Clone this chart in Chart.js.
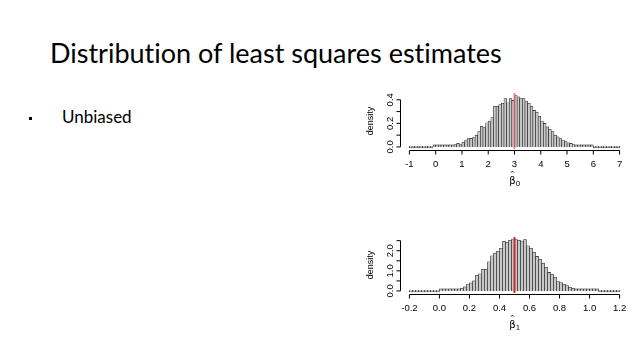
<!doctype html>
<html lang="en">
<head>
  <meta charset="utf-8">
  <title>Distribution of least squares estimates</title>
  <script src="https://cdn.jsdelivr.net/npm/chart.js"></script>
  <style>
    body { margin: 0; width: 640px; height: 360px; background: #fff; position: relative; overflow: hidden; font-family: Lato, "Open Sans", sans-serif; color: #000; font-variant-ligatures: none; }
    h1 { position: absolute; left: 50px; top: 39px; margin: 0; font-weight: 400; font-size: 27px; line-height: 1; white-space: nowrap; }
    .bullet { position: absolute; left: 29px; top: 108px; font-size: 17px; line-height: 1; white-space: nowrap; }
    .bullet .mark { display: inline-block; width: 3px; height: 3px; background: #000; margin-right: 30px; vertical-align: 3px; }
    .plot { position: absolute; left: 340px; width: 300px; height: 115px; }
  </style>
</head>
<body>
  <h1>Distribution of least squares estimates</h1>
  <div class="bullet"><span class="mark"></span>Unbiased</div>
  <div class="plot" style="top:80px"><canvas id="beta0Chart"></canvas></div>
  <div class="plot" style="top:225px"><canvas id="beta1Chart"></canvas></div>
<script>
// beta0 histogram: bins of 0.1 from -1 to 7
const b0Start = -1, b0Width = 0.1, b0True = 3;
const b0Density = [
  0, 0, 0, 0, 0, 0, 0, 0, 0, 0.001,
  0.002, 0.002, 0.003, 0.004, 0.006, 0.012, 0.015, 0.02, 0.03, 0.024,
  0.04, 0.058, 0.07, 0.072, 0.08, 0.1, 0.13, 0.175, 0.165, 0.205,
  0.22, 0.25, 0.345, 0.345, 0.36, 0.37, 0.41, 0.375, 0.41, 0.395,
  0.44, 0.425, 0.41, 0.41, 0.39, 0.37, 0.345, 0.31, 0.295, 0.26,
  0.22, 0.2, 0.17, 0.15, 0.13, 0.1, 0.085, 0.07, 0.058, 0.045,
  0.035, 0.03, 0.02, 0.015, 0.01, 0.006, 0.004, 0.003, 0.002, 0.001,
  0, 0, 0, 0, 0, 0, 0, 0, 0, 0
];
const b0XTicks = [-1, 0, 1, 2, 3, 4, 5, 6, 7];
const b0XLabels = ['-1', '0', '1', '2', '3', '4', '5', '6', '7'];
const b0YTicks = [0, 0.1, 0.2, 0.3, 0.4];
const b0YLabels = ['0.0', '', '0.2', '', '0.4'];

// beta1 histogram: bins of 0.02 from -0.2 to 1.2
const b1Start = -0.2, b1Width = 0.02, b1True = 0.5;
const b1Density = [
  0, 0, 0, 0, 0, 0, 0, 0, 0, 0,
  0.005, 0.01, 0.02, 0.03, 0.05, 0.08, 0.1, 0.13, 0.2, 0.34,
  0.4, 0.5, 0.78, 0.85, 1.08, 1.08, 1.45, 1.75, 1.88, 1.97,
  2.12, 2.47, 2.42, 2.52, 2.58, 2.55, 2.52, 2.48, 2.55, 2.25,
  2.12, 1.92, 1.72, 1.58, 1.38, 1.18, 0.92, 0.83, 0.68, 0.47,
  0.42, 0.33, 0.27, 0.18, 0.13, 0.1, 0.06, 0.04, 0.025, 0.015,
  0.008, 0.005, 0.002, 0, 0, 0, 0, 0, 0, 0
];
const b1XTicks = [-0.2, 0, 0.2, 0.4, 0.6, 0.8, 1.0, 1.2];
const b1XLabels = ['-0.2', '0.0', '0.2', '0.4', '0.6', '0.8', '1.0', '1.2'];
const b1YTicks = [0, 0.5, 1, 1.5, 2, 2.5];
const b1YLabels = ['0.0', '', '1.0', '', '2.0', ''];

// R style axes drawn from the chart scales
const rAxes = {
  id: 'rAxes',
  afterDraw(chart, args, opts) {
    const ctx = chart.ctx, xs = chart.scales.x, ys = chart.scales.y, area = chart.chartArea;
    ctx.save();
    // true value line
    const tx = xs.getPixelForValue(opts.trueValue);
    ctx.strokeStyle = opts.lineColor;
    ctx.lineWidth = 2;
    ctx.beginPath(); ctx.moveTo(tx, area.top); ctx.lineTo(tx, area.bottom); ctx.stroke();

    ctx.strokeStyle = '#000';
    ctx.fillStyle = '#000';
    ctx.lineWidth = 1;
    ctx.font = '9.5px "Liberation Sans", Arial, sans-serif';
    // x axis
    const ay = Math.round(area.bottom + 1) + 0.5;
    const x0 = xs.getPixelForValue(opts.xTicks[0]);
    const x1 = xs.getPixelForValue(opts.xTicks[opts.xTicks.length - 1]);
    ctx.beginPath(); ctx.moveTo(x0, ay); ctx.lineTo(x1, ay); ctx.stroke();
    ctx.textAlign = 'center';
    ctx.textBaseline = 'middle';
    opts.xTicks.forEach((v, i) => {
      const px = xs.getPixelForValue(v);
      ctx.beginPath(); ctx.moveTo(px, ay); ctx.lineTo(px, ay + 4); ctx.stroke();
      ctx.fillText(opts.xLabels[i], px, ay + 14);
    });
    // y axis
    const ax = Math.round(area.left) - 0.5;
    const y0 = ys.getPixelForValue(opts.yTicks[0]);
    const y1 = ys.getPixelForValue(opts.yTicks[opts.yTicks.length - 1]);
    ctx.beginPath(); ctx.moveTo(ax, y0); ctx.lineTo(ax, y1); ctx.stroke();
    opts.yTicks.forEach((v, i) => {
      const py = ys.getPixelForValue(v);
      ctx.beginPath(); ctx.moveTo(ax, py); ctx.lineTo(ax - 4, py); ctx.stroke();
      if (opts.yLabels[i]) {
        ctx.save();
        ctx.translate(ax - 10, py);
        ctx.rotate(-Math.PI / 2);
        ctx.fillText(opts.yLabels[i], 0, 0);
        ctx.restore();
      }
    });
    // y title
    ctx.save();
    ctx.font = '9px "Liberation Sans", Arial, sans-serif';
    ctx.translate(ax - 30, (area.top + area.bottom) / 2);
    ctx.rotate(-Math.PI / 2);
    ctx.fillText('density', 0, 0);
    ctx.restore();
    // x title: beta hat with subscript
    const cx = (area.left + area.right) / 2, cy = ay + 31;
    ctx.font = '10px "DejaVu Sans", sans-serif';
    ctx.fillText('\u03B2', cx - 2, cy);
    ctx.font = '7px "DejaVu Sans", sans-serif';
    ctx.fillText('^', cx - 2, cy - 7);
    ctx.fillText(opts.sub, cx + 3.5, cy + 3);
    ctx.restore();
  }
};

function histChart(id, start, width, density, lineColor, trueValue, sub, xTicks, xLabels, yTicks, yLabels, pad) {
  const pts = density.map((d, i) => ({ x: start + (i + 0.5) * width, y: d }));
  const xMin = start, xMax = start + density.length * width;
  const xPad = 0.04 * (xMax - xMin);
  const yMax = Math.max(...density);
  return new Chart(document.getElementById(id), {
    type: 'bar',
    data: {
      datasets: [{
        data: pts,
        backgroundColor: '#c8c8c8',
        borderColor: '#1a1a1a',
        borderWidth: 0.6,
        barPercentage: 1,
        categoryPercentage: 1,
        minBarLength: 2
      }]
    },
    options: {
      responsive: false,
      animation: false,
      layout: { padding: pad },
      scales: {
        x: { type: 'linear', display: false, offset: false, min: xMin - xPad, max: xMax + xPad },
        y: { display: false, min: -0.04 * yMax, max: 1.04 * yMax }
      },
      plugins: {
        legend: { display: false },
        tooltip: { enabled: false },
        rAxes: { trueValue, lineColor, sub, xTicks, xLabels, yTicks, yLabels }
      }
    },
    plugins: [rAxes]
  });
}

['beta0Chart', 'beta1Chart'].forEach(id => {
  const c = document.getElementById(id);
  c.width = 300; c.height = 115;
});

histChart('beta0Chart', b0Start, b0Width, b0Density, 'rgba(235, 100, 100, 0.75)', b0True, '0',
  b0XTicks, b0XLabels, b0YTicks, b0YLabels, { left: 61, right: 12, top: 13, bottom: 46 });
histChart('beta1Chart', b1Start, b1Width, b1Density, 'rgb(200, 45, 45)', b1True, '1',
  b1XTicks, b1XLabels, b1YTicks, b1YLabels, { left: 61, right: 12, top: 12, bottom: 47 });
</script>
</body>
</html>
